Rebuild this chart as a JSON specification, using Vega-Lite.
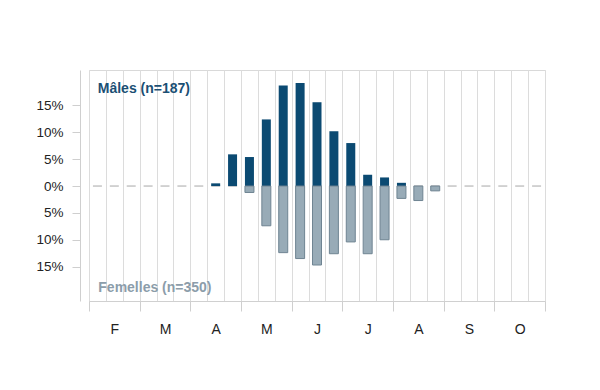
{
  "$schema": "https://vega.github.io/schema/vega-lite/v6.json",
  "width": 456,
  "height": 231,
  "autosize": "none",
  "padding": {"left": 89, "top": 70, "right": 55, "bottom": 89},
  "background": "white",
  "config": {
    "view": {"stroke": "#d9d9d9", "strokeWidth": 1},
    "font": "Liberation Sans",
    "axis": {"labelFont": "Liberation Sans", "titleFont": "Liberation Sans"}
  },
  "datasets": {
    "males": [
      {"slot": 7.5, "pct": 0.5},
      {"slot": 8.5, "pct": 5.9},
      {"slot": 9.5, "pct": 5.4},
      {"slot": 10.5, "pct": 12.4},
      {"slot": 11.5, "pct": 18.7},
      {"slot": 12.5, "pct": 19.2},
      {"slot": 13.5, "pct": 15.6},
      {"slot": 14.5, "pct": 10.2},
      {"slot": 15.5, "pct": 8.0},
      {"slot": 16.5, "pct": 2.1},
      {"slot": 17.5, "pct": 1.6},
      {"slot": 18.5, "pct": 0.6}
    ],
    "femelles": [
      {"slot": 9.5, "pct": -1.2},
      {"slot": 10.5, "pct": -7.4},
      {"slot": 11.5, "pct": -12.4},
      {"slot": 12.5, "pct": -13.5},
      {"slot": 13.5, "pct": -14.7},
      {"slot": 14.5, "pct": -12.6},
      {"slot": 15.5, "pct": -10.4},
      {"slot": 16.5, "pct": -12.6},
      {"slot": 17.5, "pct": -10.0},
      {"slot": 18.5, "pct": -2.3},
      {"slot": 19.5, "pct": -2.7},
      {"slot": 20.5, "pct": -0.9}
    ]
  },
  "resolve": {"axis": {"x": "independent"}},
  "layer": [
    {
      "data": {"values": [{}]},
      "mark": {"type": "rule", "color": "#a8a8a8", "strokeWidth": 1, "strokeDash": [9, 7.89], "strokeDashOffset": 12.94},
      "encoding": {
        "x": {
          "datum": 0, "type": "quantitative",
          "scale": {"domain": [0, 27], "nice": false, "zero": false, "padding": 0},
          "axis": {
            "orient": "bottom", "title": null,
            "values": [0,1,2,3,4,5,6,7,8,9,10,11,12,13,14,15,16,17,18,19,20,21,22,23,24,25,26,27],
            "grid": true, "gridColor": "#dcdcdc", "gridWidth": 1,
            "ticks": false, "labels": false, "domain": false
          }
        },
        "x2": {"datum": 27},
        "y": {
          "datum": 0, "type": "quantitative",
          "scale": {"domain": [-21.4, 21.6], "nice": false, "zero": false, "padding": 0},
          "axis": {
            "title": null, "values": [-15, -10, -5, 0, 5, 10, 15],
            "grid": false, "offset": 9,
            "domain": true, "domainColor": "#cfcfcf",
            "ticks": true, "tickSize": 8, "tickColor": "#cfcfcf",
            "labelPadding": 9, "labelFontSize": 13.5, "labelColor": "#222222",
            "labelExpr": "format(abs(datum.value), 'd') + '%'"
          }
        }
      }
    },
    {
      "data": {"name": "males"},
      "mark": {"type": "bar", "orient": "vertical", "size": 9, "color": "#0b4a72"},
      "encoding": {
        "x": {
          "field": "slot", "type": "quantitative",
          "axis": {
            "orient": "bottom", "title": null,
            "values": [0, 3, 6, 9, 12, 15, 18, 21, 24, 27],
            "grid": false, "labels": false,
            "ticks": true, "tickSize": 10, "tickColor": "#cfcfcf",
            "domain": true, "domainColor": "#d0d0d0"
          }
        },
        "y": {"field": "pct", "type": "quantitative", "stack": null,
          "axis": {
            "title": null, "values": [-15, -10, -5, 0, 5, 10, 15],
            "grid": false, "offset": 9,
            "domain": true, "domainColor": "#cfcfcf",
            "ticks": true, "tickSize": 8, "tickColor": "#cfcfcf",
            "labelPadding": 9, "labelFontSize": 13.5, "labelColor": "#222222",
            "labelExpr": "format(abs(datum.value), 'd') + '%'"
          }}
      }
    },
    {
      "data": {"name": "femelles"},
      "mark": {"type": "bar", "orient": "vertical", "size": 9, "fill": "#98abb7", "stroke": "#6f8492", "strokeWidth": 1},
      "encoding": {
        "x": {
          "field": "slot", "type": "quantitative",
          "axis": {
            "orient": "bottom", "title": null,
            "values": [1.5, 4.5, 7.5, 10.5, 13.5, 16.5, 19.5, 22.5, 25.5],
            "grid": false, "ticks": false, "domain": false,
            "labelPadding": 21, "labelFontSize": 14, "labelColor": "#222222",
            "labelExpr": "['F','M','A','M','J','J','A','S','O'][floor(datum.value / 3)]"
          }
        },
        "y": {"field": "pct", "type": "quantitative", "stack": null,
          "axis": {
            "title": null, "values": [-15, -10, -5, 0, 5, 10, 15],
            "grid": false, "offset": 9,
            "domain": true, "domainColor": "#cfcfcf",
            "ticks": true, "tickSize": 8, "tickColor": "#cfcfcf",
            "labelPadding": 9, "labelFontSize": 13.5, "labelColor": "#222222",
            "labelExpr": "format(abs(datum.value), 'd') + '%'"
          }}
      }
    },
    {
      "data": {"values": [{"label": "Mâles (n=187)"}]},
      "mark": {"type": "text", "align": "left", "baseline": "alphabetic", "fontWeight": "bold", "fontSize": 14, "color": "#1b4f74"},
      "encoding": {
        "x": {"datum": 0.52, "type": "quantitative", "axis": null},
        "y": {"datum": 17.3, "type": "quantitative",
          "axis": {
            "title": null, "values": [-15, -10, -5, 0, 5, 10, 15],
            "grid": false, "offset": 9,
            "domain": true, "domainColor": "#cfcfcf",
            "ticks": true, "tickSize": 8, "tickColor": "#cfcfcf",
            "labelPadding": 9, "labelFontSize": 13.5, "labelColor": "#222222",
            "labelExpr": "format(abs(datum.value), 'd') + '%'"
          }},
        "text": {"field": "label"}
      }
    },
    {
      "data": {"values": [{"label": "Femelles (n=350)"}]},
      "mark": {"type": "text", "align": "left", "baseline": "alphabetic", "fontWeight": "bold", "fontSize": 14, "color": "#8c9daa"},
      "encoding": {
        "x": {"datum": 0.55, "type": "quantitative", "axis": null},
        "y": {"datum": -19.7, "type": "quantitative",
          "axis": {
            "title": null, "values": [-15, -10, -5, 0, 5, 10, 15],
            "grid": false, "offset": 9,
            "domain": true, "domainColor": "#cfcfcf",
            "ticks": true, "tickSize": 8, "tickColor": "#cfcfcf",
            "labelPadding": 9, "labelFontSize": 13.5, "labelColor": "#222222",
            "labelExpr": "format(abs(datum.value), 'd') + '%'"
          }},
        "text": {"field": "label"}
      }
    }
  ]
}
